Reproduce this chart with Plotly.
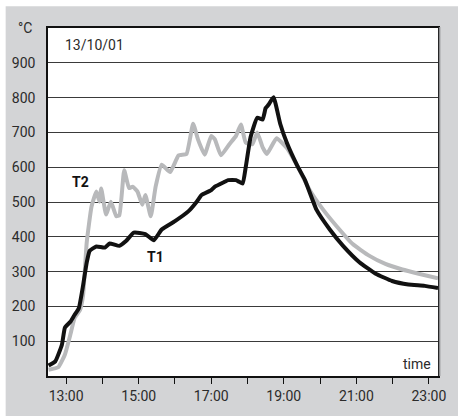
import plotly.graph_objects as go

DAY = "2001-10-13"

# Temperature T1 (black) — time of reading and °C
t1_time = ["12:31", "12:42", "12:53", "12:58", "13:07", "13:14", "13:21", "13:28",
           "13:34", "13:39", "13:50", "14:04", "14:12", "14:28", "14:39", "14:52",
           "15:11", "15:25", "15:38", "16:00", "16:22", "16:36", "16:44", "17:00",
           "17:06", "17:22", "17:28", "17:41", "17:46", "17:52", "17:57", "18:05",
           "18:16", "18:25", "18:30", "18:35", "18:43", "18:54", "19:05", "19:22",
           "19:35", "19:54", "20:16", "20:38", "21:05", "21:32", "21:59", "22:26",
           "22:53", "23:15"]
t1_temp = [30, 42, 90, 139, 156, 176, 195, 260,
           326, 360, 372, 369, 381, 374, 388, 412,
           408, 390, 421, 445, 473, 501, 520, 534,
           544, 558, 563, 563, 558, 553, 600, 686,
           742, 737, 770, 780, 801, 725, 670, 605,
           563, 478, 421, 374, 327, 294, 273, 263,
           259, 253]

# Temperature T2 (grey)
t2_time = ["12:31", "12:47", "12:58", "13:07", "13:14", "13:23", "13:28", "13:34",
           "13:42", "13:50", "13:55", "13:58", "14:06", "14:14", "14:23", "14:28",
           "14:36", "14:44", "14:50", "14:58", "15:06", "15:11", "15:20", "15:28",
           "15:38", "15:52", "16:06", "16:19", "16:30", "16:38", "16:49", "17:00",
           "17:06", "17:16", "17:30", "17:41", "17:49", "17:57", "18:08", "18:16",
           "18:25", "18:32", "18:48", "19:05", "19:22", "19:43", "20:05", "20:27",
           "20:54", "21:21", "21:48", "22:16", "22:43", "23:15"]
t2_temp = [18, 25, 62, 119, 167, 190, 232, 383,
           487, 530, 501, 539, 464, 501, 459, 462,
           591, 540, 544, 530, 492, 520, 459, 544,
           607, 586, 634, 638, 725, 680, 636, 690,
           680, 634, 666, 690, 723, 671, 666, 700,
           657, 638, 683, 655, 605, 534, 478, 431,
           379, 346, 322, 306, 294, 281]

y_ticks = [100, 200, 300, 400, 500, 600, 700, 800, 900]


def stamp(hhmm):
    return f"{DAY} {hhmm}"


FONT = "Roboto"
TXT = "#2b2b2b"
BG = "#d3d4d6"
FS = 14

fig = go.Figure()
fig.add_trace(go.Scatter(
    x=[stamp(t) for t in t2_time], y=t2_temp, mode="lines",
    line=dict(color="#b8b9bb", width=4, shape="spline", smoothing=0.4),
    name="T2", hoverinfo="skip"))
fig.add_trace(go.Scatter(
    x=[stamp(t) for t in t1_time], y=t1_temp, mode="lines",
    line=dict(color="#111111", width=4, shape="spline", smoothing=0.4),
    name="T1", hoverinfo="skip"))

fig.update_layout(
    width=458, height=416,
    margin=dict(l=48, r=14, t=28, b=34),
    paper_bgcolor=BG, plot_bgcolor="white",
    showlegend=False,
    font=dict(family=FONT, size=FS, color=TXT),
    xaxis=dict(
        type="date",
        range=[stamp("12:30"), stamp("23:15")],
        tick0=stamp("13:00"), dtick=2 * 3600000,
        tickformat="%H:%M",
        ticks="outside", ticklen=6, tickwidth=1, tickcolor="#111111",
        minor=dict(dtick=3600000, ticks="outside", ticklen=6,
                   tickcolor="#111111", showgrid=False),
        showgrid=False, zeroline=False,
        showline=True, linecolor="#111111", linewidth=1.5, mirror=True,
        tickfont=dict(family=FONT, size=FS, color=TXT),
    ),
    yaxis=dict(
        range=[0, 1000],
        tickvals=y_ticks,
        ticks="", ticklabelstandoff=8,
        showgrid=True, gridcolor="#3a3a3a", gridwidth=1,
        zeroline=False,
        showline=True, linecolor="#111111", linewidth=1.5, mirror=True,
        tickfont=dict(family=FONT, size=FS, color=TXT),
    ),
    shapes=[
        # white strips framing the grey panel
        dict(type="rect", xref="paper", yref="paper",
             x0=-0.2, x1=(5 - 48) / 396, y0=-0.2, y1=1.2,
             fillcolor="white", line=dict(width=0), layer="below"),
        dict(type="rect", xref="paper", yref="paper",
             x0=-0.2, x1=1.2, y0=(382 - 6) / 354, y1=1.2,
             fillcolor="white", line=dict(width=0), layer="below"),
        # soft shadow along the right edge of the plot frame
        dict(type="line", xref="paper", yref="paper",
             x0=1 + 1.6 / 396, x1=1 + 1.6 / 396, y0=0, y1=1 + 1 / 354,
             line=dict(color="#8a8b8d", width=1.5)),
    ],
    annotations=[
        dict(text="°C", xref="paper", yref="paper",
             x=(25 - 48) / 396, y=1.0, xanchor="center", yanchor="middle",
             showarrow=False, font=dict(family=FONT, size=FS, color=TXT)),
        dict(text="13/10/01", xref="x", yref="y",
             x=stamp("12:55"), y=950, xanchor="left", yanchor="middle",
             showarrow=False, font=dict(family=FONT, size=FS, color=TXT)),
        dict(text="time", xref="x", yref="y",
             x=stamp("23:07"), y=35, xanchor="right", yanchor="middle",
             showarrow=False, font=dict(family=FONT, size=FS, color=TXT)),
        dict(text="<b>T2</b>", xref="x", yref="y",
             x=stamp("13:23"), y=558, xanchor="center", yanchor="middle",
             showarrow=False, font=dict(family=FONT, size=FS, color="#111111")),
        dict(text="<b>T1</b>", xref="x", yref="y",
             x=stamp("15:28"), y=343, xanchor="center", yanchor="middle",
             showarrow=False, font=dict(family=FONT, size=FS, color="#111111")),
    ],
)

fig.write_html("out.html")
